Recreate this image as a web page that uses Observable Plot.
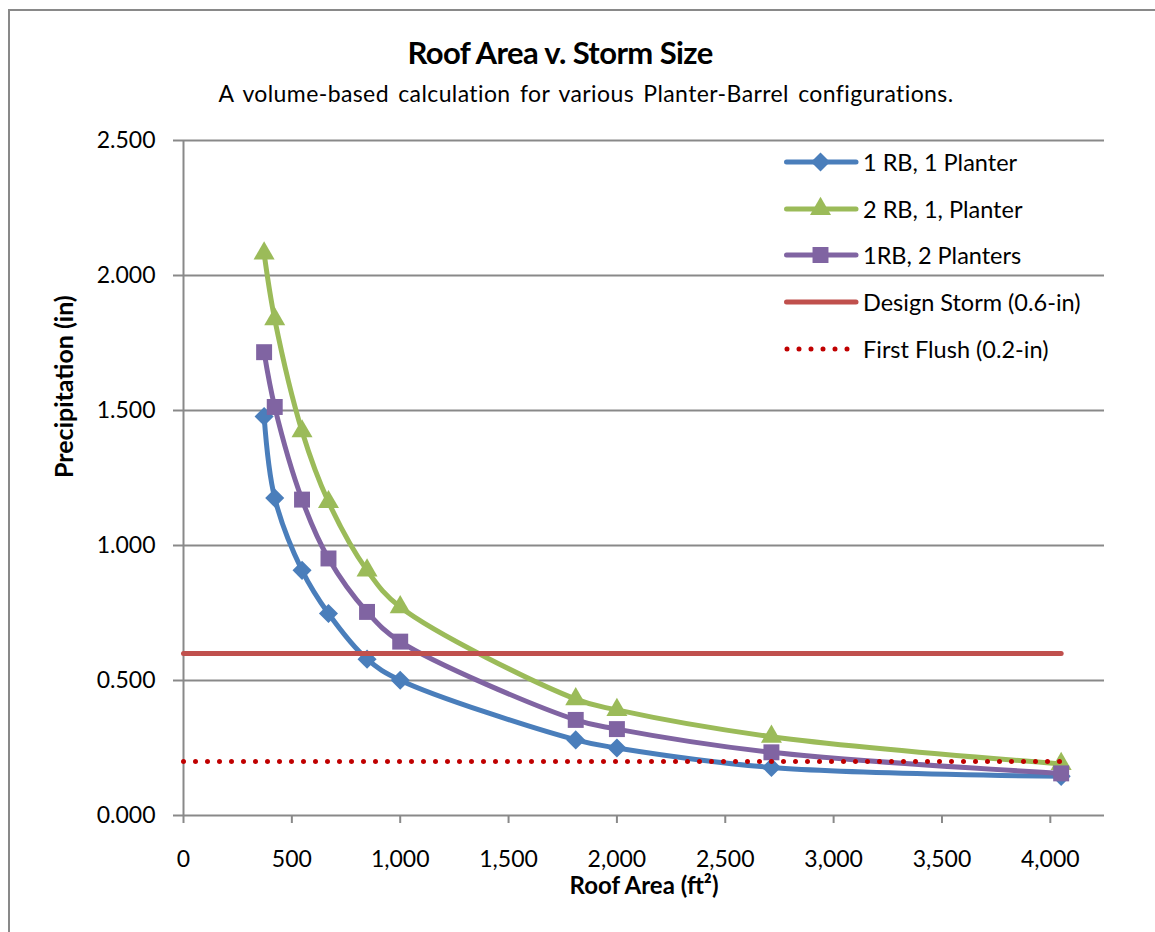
<!DOCTYPE html>
<html><head><meta charset="utf-8">
<script src="https://cdn.jsdelivr.net/npm/d3@7"></script>
<script src="https://cdn.jsdelivr.net/npm/@observablehq/plot@0.6"></script>
<style>
html,body{margin:0;padding:0;background:#fff;}
body{width:1155px;height:932px;overflow:hidden;font-family:Lato,"Open Sans",sans-serif;color:#000;}
#wrap{position:relative;width:1155px;height:932px;overflow:hidden;}
#frame{position:absolute;left:8px;top:9px;width:1300px;height:1100px;border:2px solid #898989;box-sizing:border-box;}
#title{position:absolute;left:0;top:35px;width:1120px;text-align:center;font-weight:700;font-size:31px;line-height:34px;letter-spacing:-0.6px;}
#subtitle{position:absolute;left:0;top:79px;width:1172px;text-align:center;font-size:23px;line-height:28px;word-spacing:3px;letter-spacing:0.4px;}
#chart{position:absolute;left:0;top:120px;}
#legend{position:absolute;left:784px;top:140px;font-size:23.5px;}
.row{position:absolute;left:0;height:30px;display:flex;align-items:center;white-space:nowrap;}
.row svg{display:block;margin-right:3px;}
</style>
</head><body>
<div id="wrap">
  <div id="frame"></div>
  <div id="title">Roof Area v. Storm Size</div>
  <div id="subtitle">A volume-based calculation for various Planter-Barrel configurations.</div>
  <div id="chart"></div>
  <div id="legend"></div>
</div>
<script>
// ---- data ----
const roofArea = [372, 421, 547, 669, 847, 1000, 1810, 2000, 2713, 4050];
const rb1Planter1 = [1.478, 1.176, 0.908, 0.748, 0.579, 0.501, 0.280, 0.250, 0.178, 0.145];
const rb2Planter1 = [2.082, 1.838, 1.423, 1.161, 0.908, 0.772, 0.431, 0.391, 0.292, 0.191];
const rb1Planter2 = [1.716, 1.513, 1.170, 0.952, 0.754, 0.644, 0.354, 0.320, 0.234, 0.156];
const refLineArea = [0, 4050];
const designStorm = [0.6, 0.6];
const firstFlush = [0.2, 0.2];
const xTicks = [0, 500, 1000, 1500, 2000, 2500, 3000, 3500, 4000];
const yTicks = [0, 0.5, 1.0, 1.5, 2.0, 2.5];
const seriesNames = ["1 RB, 1 Planter", "2 RB, 1, Planter", "1RB, 2 Planters", "Design Storm (0.6-in)", "First Flush (0.2-in)"];
const seriesColors = ["#4A7EBB", "#9BBB59", "#8064A2", "#C0504D", "#C00000"];
const seriesSymbols = ["diamond2", "triangle", "square"];
const seriesR = [8.6, 7.8, 9];

const curves = [rb1Planter1, rb2Planter1, rb1Planter2];
const toRows = (xs, ys) => xs.map((x, i) => ({x, y: ys[i]}));

const gray = "#898989";
const marks = [
  Plot.ruleY(yTicks.slice(1), {stroke: gray, strokeWidth: 2}),
  Plot.ruleX([0], {stroke: gray, strokeWidth: 2}),
  Plot.ruleY([0], {stroke: gray, strokeWidth: 2}),
  Plot.axisY({ticks: yTicks, tickFormat: d3.format(".3f"), tickSize: 10, tickPadding: 18,
    stroke: gray, strokeWidth: 2, strokeOpacity: 1, fontSize: 23, fill: "#000", label: null}),
  Plot.axisX({ticks: xTicks, tickFormat: d3.format(","), tickSize: 8, tickPadding: 27,
    stroke: gray, strokeWidth: 2, strokeOpacity: 1, fontSize: 23, fill: "#000", label: null}),
  Plot.text(["Precipitation (in)"], {text: d => d, frameAnchor: "left", rotate: -90, dx: -119,
    fontWeight: "bold", fontSize: 25, fill: "#000", letterSpacing: "1px"}),
  Plot.text(["Roof Area (ft²)"], {text: d => d, frameAnchor: "bottom", lineAnchor: "middle", dy: 71,
    fontWeight: "bold", fontSize: 24, fill: "#000", letterSpacing: "1px"})
];
curves.forEach((vals, k) => {
  const rows = toRows(roofArea, vals);
  marks.push(Plot.line(rows, {x: "x", y: "y", stroke: seriesColors[k], strokeWidth: 5, curve: "catmull-rom"}));
  marks.push(Plot.dot(rows, {x: "x", y: "y", symbol: seriesSymbols[k], fill: seriesColors[k], r: seriesR[k], stroke: "none"}));
});
marks.push(Plot.line(toRows(refLineArea, designStorm), {x: "x", y: "y", stroke: seriesColors[3], strokeWidth: 5}));
marks.push(Plot.line(toRows(refLineArea, firstFlush), {x: "x", y: "y", stroke: seriesColors[4], strokeWidth: 5,
  strokeDasharray: "0 12", strokeLinecap: "round"}));

const chart = Plot.plot({
  width: 1155, height: 812,
  marginLeft: 183, marginRight: 51, marginTop: 20, marginBottom: 117,
  style: {fontFamily: "Lato, 'Open Sans', sans-serif", background: "transparent", overflow: "visible"},
  x: {domain: [0, 4250]},
  y: {domain: [0, 2.5]},
  marks
});
document.getElementById("chart").appendChild(chart);

// ---- legend ----
const legend = document.getElementById("legend");
const rowCenters = [22, 69, 115, 162, 209];
seriesNames.forEach((name, k) => {
  const row = document.createElement("div");
  row.className = "row";
  row.style.top = (rowCenters[k] - 15) + "px";
  const svg = d3.create("svg").attr("width", 76).attr("height", 30);
  const ln = svg.append("line").attr("x1", 2.5).attr("x2", 72).attr("y1", 15).attr("y2", 15)
    .attr("stroke", seriesColors[k]).attr("stroke-width", 5).attr("stroke-linecap", "round");
  if (k === 4) ln.attr("stroke-dasharray", "0 12").attr("x1", 3).attr("x2", 66);
  if (k < 3) {
    const sym = {diamond2: d3.symbolDiamond2, triangle: d3.symbolTriangle, square: d3.symbolSquare}[seriesSymbols[k]];
    svg.append("path").attr("transform", "translate(36.5,15)")
      .attr("d", d3.symbol(sym, Math.PI * seriesR[k] * seriesR[k])())
      .attr("fill", seriesColors[k]);
  }
  row.appendChild(svg.node());
  const span = document.createElement("span");
  span.textContent = name;
  row.appendChild(span);
  legend.appendChild(row);
});
</script>
</body></html>
